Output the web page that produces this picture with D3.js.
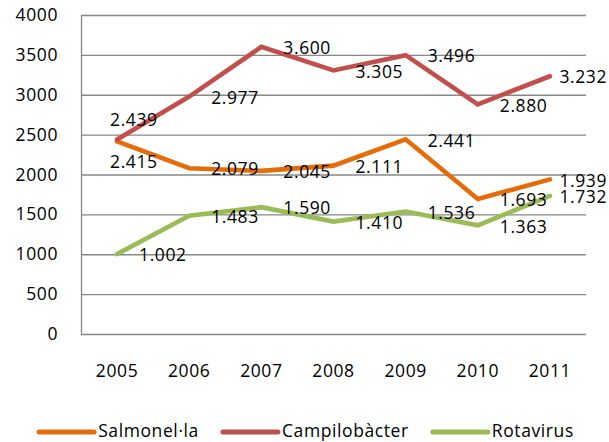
<!DOCTYPE html>
<html>
<head>
<meta charset="utf-8">
<script src="https://cdn.jsdelivr.net/npm/d3@7"></script>
<style>
  html, body { margin: 0; padding: 0; background: #fff; }
  svg { display: block; }
  text { font-family: "Open Sans", sans-serif; font-size: 17.5px; letter-spacing: 0.6px; fill: #000; }
</style>
</head>
<body>
<svg id="chart" width="609" height="442"></svg>
<script>
// ---- data ----
const years = ["2005", "2006", "2007", "2008", "2009", "2010", "2011"];
const seriesNames = ["Salmonel·la", "Campilobàcter", "Rotavirus"];
const salmonella = [2415, 2079, 2045, 2111, 2441, 1693, 1939];
const campylobacter = [2439, 2977, 3600, 3305, 3496, 2880, 3232];
const rotavirus = [1002, 1483, 1590, 1410, 1536, 1363, 1732];
const yTicks = [0, 500, 1000, 1500, 2000, 2500, 3000, 3500, 4000];

const colors = ["#E46C0A", "#C0504D", "#9BBB59"];
const series = [salmonella, campylobacter, rotavirus].map((values, i) => ({
  name: seriesNames[i], values, color: colors[i]
}));

const W = 609, H = 442;
const plot = { left: 81, right: 586, top: 15, bottom: 334 };
const svg = d3.select("#chart");

const x = d3.scaleBand().domain(years).range([plot.left, plot.right]);
const cx = d => x(d) + x.bandwidth() / 2;
const y = d3.scaleLinear().domain([0, 4000]).range([plot.bottom, plot.top]);

const fmt = d3.formatLocale({ decimal: ",", thousands: ".", grouping: [3], currency: ["", "€"] }).format(",");

// gridlines + y axis
const yAxis = svg.append("g")
  .attr("transform", `translate(${plot.left},0)`)
  .call(d3.axisLeft(y).tickValues(yTicks).tickFormat(d => d)
    .tickSizeInner(-(plot.right - plot.left)).tickSizeOuter(0).tickPadding(23));
yAxis.select(".domain").attr("stroke", "#878787").attr("stroke-width", 1.3);
yAxis.selectAll(".tick line").attr("stroke", "#878787").attr("stroke-width", 1.3);
yAxis.selectAll(".tick text").attr("fill", "#000");
yAxis.attr("font-family", null).attr("font-size", null);

// x axis labels
const xAxis = svg.append("g")
  .attr("transform", `translate(0,${plot.bottom})`)
  .call(d3.axisBottom(x).tickSize(0).tickPadding(31));
xAxis.select(".domain").remove();
xAxis.selectAll(".tick text").attr("fill", "#000");
xAxis.attr("font-family", null).attr("font-size", null);

// lines
const line = d3.line().x((d, i) => cx(years[i])).y(d => y(d));
series.forEach(s => {
  svg.append("path")
    .datum(s.values)
    .attr("d", line)
    .attr("fill", "none")
    .attr("stroke", s.color)
    .attr("stroke-width", 4.6)
    .attr("stroke-linejoin", "miter")
    .attr("stroke-linecap", "round");
});

// data labels (Excel-like "right" placement, with collision & edge handling)
const labelsG = svg.append("g");
years.forEach((yr, i) => {
  const px = cx(yr);
  series.forEach((s, si) => {
    const v = s.values[i];
    const py = y(v);
    let mode = "right";
    series.forEach((o, oi) => {
      if (oi === si) return;
      const oy = y(o.values[i]);
      if (Math.abs(oy - py) < 12) mode = v > o.values[i] ? "above" : "below";
    });
    const t = labelsG.append("text").text(fmt(v)).attr("dy", "0.357em");
    if (mode === "right") {
      t.attr("x", px + 22).attr("y", py + 1);
      const w = t.node().getComputedTextLength();
      if (px + 22 + w > W - 2) t.attr("x", W - 2 - w);
    } else if (mode === "above") {
      t.attr("x", px - 7).attr("y", py - 20);
    } else {
      t.attr("x", px - 7).attr("y", py + 20);
    }
  });
});

// legend
const legend = svg.append("g");
let lx = 0;
series.forEach(s => {
  const g = legend.append("g").attr("transform", `translate(${lx},0)`);
  g.append("line").attr("x1", 0).attr("x2", 55).attr("y1", 432).attr("y2", 432)
    .attr("stroke", s.color).attr("stroke-width", 5).attr("stroke-linecap", "round");
  const t = g.append("text").attr("x", 59).attr("y", 436.5).text(s.name);
  const w = t.node().getComputedTextLength();
  lx += 59 + w + 24;
});
const totalW = lx - 24;
legend.attr("transform", `translate(${(W - totalW) / 2 + 2},0)`);
</script>
</body>
</html>
